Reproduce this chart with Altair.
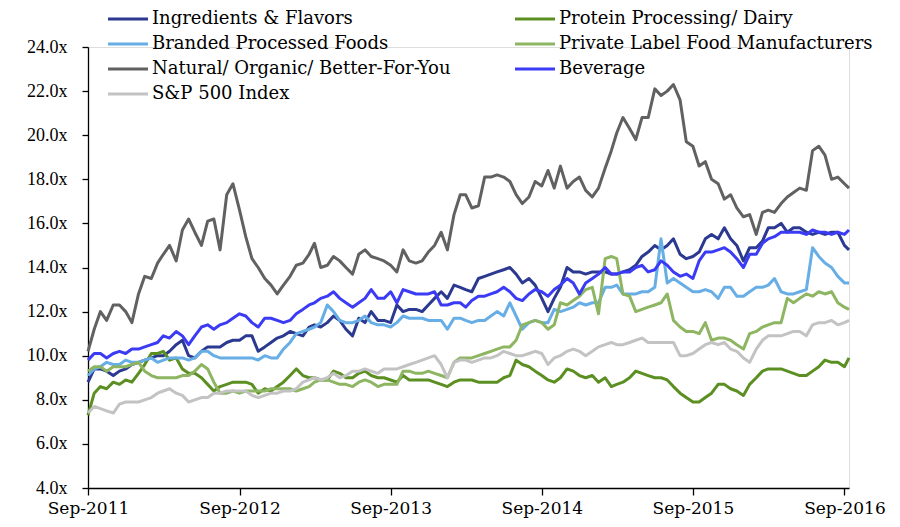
import altair as alt
import pandas as pd

# semi-monthly dates: 1st and 16th of each month, Sep-2011 .. Sep-2016, plus last day
dates = []
for y in range(2011, 2017):
    for m in range(1, 13):
        if (y == 2011 and m < 9) or (y == 2016 and m > 9):
            continue
        dates.append(f"{y}-{m:02d}-01")
        if not (y == 2016 and m == 9):
            dates.append(f"{y}-{m:02d}-16")
dates.append("2016-09-12")

# legend order (column by column)
series_names = [
    "Ingredients & Flavors",
    "Branded Processed Foods",
    "Natural/ Organic/ Better-For-You",
    "S&P 500 Index",
    "Protein Processing/ Dairy",
    "Private Label Food Manufacturers",
    "Beverage",
]
series_colors = ["#2B3990", "#66AEE5", "#616161", "#C3C3C3", "#5B8F22", "#8DB562", "#3B3BF5"]

ingredients = [8.8, 9.4, 9.4, 9.3, 9.1, 9.3, 9.4, 9.6, 9.7, 9.8, 9.9, 10.0, 10.0, 10.2, 10.5, 10.7,
               10.0, 9.9, 10.2, 10.4, 10.4, 10.4, 10.6, 10.7, 10.7, 10.9, 10.9, 10.2, 10.4, 10.6, 10.8, 10.9,
               11.1, 11.0, 10.9, 11.3, 11.4, 11.3, 11.5, 11.8, 11.6, 11.2, 10.9, 11.7, 11.5, 12.0, 11.6, 11.6,
               11.5, 12.3, 12.0, 12.1, 12.1, 12.0, 12.3, 12.6, 12.9, 12.6, 13.2, 13.1, 13.0, 12.9, 13.5, 13.6,
               13.7, 13.8, 13.9, 14.0, 13.7, 13.3, 13.5, 13.2, 12.6, 12.0, 12.6, 13.1, 14.0, 13.8, 13.8, 13.7,
               13.8, 13.8, 13.8, 13.7, 13.7, 13.8, 13.9, 14.1, 14.5, 14.7, 15.0, 14.8, 15.0, 15.3, 14.6, 14.4,
               14.5, 14.7, 15.3, 15.5, 15.3, 15.8, 15.3, 15.0, 14.3, 14.9, 14.9, 15.2, 15.8, 15.8, 16.0, 15.6,
               15.8, 15.8, 15.6, 15.5, 15.6, 15.5, 15.6, 15.6, 15.0, 14.8]
protein = [7.3, 8.3, 8.6, 8.5, 8.8, 8.7, 8.9, 8.8, 9.2, 9.6, 10.1, 10.1, 10.2, 9.8, 9.9, 9.4,
           9.2, 9.2, 9.0, 8.7, 8.4, 8.6, 8.7, 8.8, 8.8, 8.8, 8.7, 8.3, 8.5, 8.4, 8.6, 8.8,
           9.1, 9.4, 9.1, 9.0, 9.0, 8.9, 8.9, 9.3, 9.2, 9.0, 9.0, 9.2, 9.3, 9.1, 9.0, 9.0,
           8.9, 8.8, 9.1, 8.9, 8.9, 8.9, 8.9, 8.8, 8.7, 8.6, 8.8, 8.9, 8.9, 8.9, 8.8, 8.8,
           8.8, 8.8, 9.0, 9.1, 9.8, 9.6, 9.5, 9.3, 9.1, 8.9, 8.8, 9.0, 9.4, 9.3, 9.1, 9.0,
           9.1, 8.8, 9.0, 8.6, 8.7, 8.8, 9.0, 9.3, 9.2, 9.1, 9.0, 9.0, 8.9, 8.6, 8.3, 8.1,
           7.9, 7.9, 8.1, 8.3, 8.7, 8.7, 8.5, 8.4, 8.2, 8.7, 9.0, 9.3, 9.4, 9.4, 9.4, 9.3,
           9.2, 9.1, 9.1, 9.3, 9.5, 9.8, 9.7, 9.7, 9.5, 9.9]
branded = [9.1, 9.4, 9.5, 9.7, 9.6, 9.6, 9.8, 9.7, 9.7, 9.8, 9.9, 9.7, 9.8, 9.9, 9.9, 9.9,
           9.8, 9.9, 10.2, 10.2, 10.0, 9.9, 9.9, 9.9, 9.9, 9.9, 9.9, 9.8, 10.0, 9.9, 9.9, 10.3,
           10.6, 11.0, 11.1, 11.2, 11.3, 11.5, 12.3, 12.0, 11.6, 11.5, 11.5, 11.6, 11.8, 11.5, 11.4, 11.4,
           11.3, 11.5, 11.8, 11.7, 11.7, 11.7, 11.6, 11.6, 11.6, 11.2, 11.7, 11.7, 11.6, 11.5, 11.6, 11.6,
           11.8, 12.0, 11.8, 12.4, 11.8, 11.2, 11.5, 11.6, 11.5, 11.5, 12.1, 12.0, 12.1, 12.2, 12.4, 12.3,
           12.4, 12.4, 13.1, 13.1, 13.2, 12.8, 12.8, 12.8, 12.9, 12.9, 13.1, 15.3, 13.3, 13.5, 13.3, 13.1,
           12.9, 12.9, 13.0, 12.9, 12.6, 13.1, 13.1, 12.7, 12.7, 12.9, 13.1, 13.1, 13.2, 13.5, 12.9, 12.8,
           12.8, 12.9, 13.0, 14.9, 14.5, 14.2, 14.0, 13.6, 13.3, 13.3]
private_label = [9.3, 9.5, 9.5, 9.3, 9.5, 9.5, 9.5, 9.6, 9.7, 9.3, 9.1, 9.0, 9.0, 9.0, 9.0, 9.1,
                 9.1, 9.3, 9.6, 9.4, 8.8, 8.3, 8.3, 8.4, 8.3, 8.4, 8.4, 8.4, 8.4, 8.5, 8.5, 8.5,
                 8.5, 8.4, 8.5, 8.6, 8.8, 8.9, 8.9, 8.8, 8.7, 8.7, 8.6, 8.8, 8.9, 8.8, 8.6, 8.7,
                 8.7, 8.7, 9.3, 9.3, 9.2, 9.2, 9.3, 9.2, 9.1, 9.0, 9.7, 9.9, 9.9, 9.9, 10.0, 10.1,
                 10.2, 10.3, 10.4, 10.4, 10.7, 11.4, 11.5, 11.6, 11.5, 11.2, 11.4, 12.4, 12.3, 12.5, 12.7, 13.0,
                 13.1, 11.9, 14.4, 14.5, 14.4, 12.8, 12.7, 12.0, 12.1, 12.2, 12.3, 12.4, 12.8, 11.6, 11.3, 11.1,
                 11.1, 11.0, 11.5, 10.7, 10.8, 10.8, 10.7, 10.5, 10.3, 11.0, 11.1, 11.3, 11.4, 11.5, 11.5, 12.6,
                 12.4, 12.6, 12.8, 12.7, 12.9, 12.8, 12.9, 12.4, 12.2, 12.1]
natural = [10.2, 11.2, 12.0, 11.6, 12.3, 12.3, 12.0, 11.5, 12.8, 13.6, 13.5, 14.2, 14.6, 15.0, 14.3, 15.7,
           16.2, 15.6, 15.0, 16.1, 16.2, 14.8, 17.3, 17.8, 16.6, 15.4, 14.4, 14.0, 13.5, 13.2, 12.8, 13.2,
           13.6, 14.1, 14.2, 14.6, 15.1, 14.0, 14.1, 14.5, 14.3, 14.0, 13.7, 14.6, 14.8, 14.5, 14.4, 14.3,
           14.1, 13.8, 14.8, 14.3, 14.2, 14.3, 14.7, 15.0, 15.6, 14.8, 16.4, 17.3, 17.3, 16.7, 16.8, 18.1,
           18.1, 18.2, 18.1, 17.9, 17.3, 16.9, 17.2, 17.9, 17.7, 18.4, 17.6, 18.6, 17.6, 17.9, 18.1, 17.5,
           17.2, 17.6, 18.5, 19.3, 20.1, 20.8, 20.3, 19.8, 20.8, 20.8, 22.1, 21.8, 22.0, 22.3, 21.6, 19.7,
           19.5, 18.6, 18.8, 18.0, 17.8, 17.1, 17.3, 16.7, 16.3, 16.4, 15.5, 16.5, 16.6, 16.5, 16.9, 17.2,
           17.4, 17.6, 17.5, 19.3, 19.5, 19.1, 18.0, 18.1, 17.8, 17.6]
beverage = [9.8, 10.1, 10.1, 9.9, 10.1, 10.2, 10.1, 10.3, 10.3, 10.4, 10.5, 10.6, 10.9, 10.8, 11.1, 10.9,
            10.5, 10.9, 11.3, 11.4, 11.2, 11.4, 11.5, 11.7, 11.9, 11.8, 11.5, 11.3, 11.7, 11.7, 11.6, 11.5,
            11.6, 11.9, 12.1, 12.3, 12.4, 12.6, 12.7, 12.9, 12.6, 12.4, 12.2, 12.4, 12.6, 13.0, 12.6, 12.6,
            12.9, 12.4, 13.0, 12.9, 12.8, 12.8, 12.8, 12.9, 12.3, 12.3, 12.4, 12.4, 12.2, 12.5, 12.7, 12.7,
            12.8, 12.9, 13.1, 12.9, 12.6, 12.5, 12.8, 13.0, 12.9, 12.7, 13.0, 13.2, 13.5, 13.3, 12.8, 13.3,
            13.5, 13.7, 14.0, 13.7, 13.7, 13.8, 13.8, 14.0, 14.1, 13.8, 13.9, 14.3, 14.1, 13.8, 13.6, 13.7,
            13.5, 14.3, 14.7, 14.7, 14.8, 14.9, 14.7, 14.4, 14.0, 14.6, 14.6, 15.1, 15.3, 15.4, 15.6, 15.6,
            15.6, 15.6, 15.5, 15.7, 15.6, 15.6, 15.5, 15.6, 15.5, 15.7]
sp500 = [7.4, 7.7, 7.6, 7.5, 7.4, 7.8, 7.9, 7.9, 7.9, 8.0, 8.1, 8.3, 8.4, 8.5, 8.3, 8.2,
         7.9, 8.0, 8.1, 8.1, 8.3, 8.3, 8.4, 8.4, 8.4, 8.4, 8.2, 8.1, 8.2, 8.3, 8.3, 8.4,
         8.4, 8.5, 8.8, 8.9, 9.0, 8.9, 9.0, 9.2, 9.0, 9.1, 9.3, 9.3, 9.4, 9.3, 9.2, 9.4,
         9.4, 9.4, 9.5, 9.6, 9.7, 9.8, 9.9, 10.0, 9.6, 9.0, 9.7, 9.8, 9.8, 9.7, 9.8, 9.9,
         9.9, 10.0, 10.2, 10.1, 10.0, 10.0, 10.1, 10.2, 10.1, 9.6, 9.9, 10.0, 10.2, 10.3, 10.2, 10.0,
         10.2, 10.4, 10.5, 10.6, 10.5, 10.5, 10.6, 10.7, 10.8, 10.6, 10.6, 10.6, 10.6, 10.6, 10.0, 10.0,
         10.1, 10.3, 10.5, 10.6, 10.5, 10.6, 10.3, 10.2, 9.9, 9.7, 10.3, 10.7, 10.9, 10.9, 10.9, 11.0,
         11.1, 11.1, 10.9, 11.4, 11.5, 11.5, 11.6, 11.4, 11.5, 11.6]

y_ticks = [4, 6, 8, 10, 12, 14, 16, 18, 20, 22, 24]
x_tick_years = [2011, 2012, 2013, 2014, 2015, 2016]

values_by_series = {
    "Ingredients & Flavors": ingredients,
    "Protein Processing/ Dairy": protein,
    "Branded Processed Foods": branded,
    "Private Label Food Manufacturers": private_label,
    "Natural/ Organic/ Better-For-You": natural,
    "Beverage": beverage,
    "S&P 500 Index": sp500,
}
rows = []
for name, vals in values_by_series.items():
    for d, v in zip(dates, vals):
        rows.append({"date": d, "series": name, "value": v})
df = pd.DataFrame(rows)

FONT_SERIF = "DejaVu Serif"

chart = alt.Chart(df).mark_line(strokeWidth=3, strokeJoin="round").encode(
    x=alt.X(
        "date:T",
        scale=alt.Scale(
            type="utc",
            domain=[alt.DateTime(year=2011, month=9, date=1, utc=True),
                    alt.DateTime(year=2016, month=9, date=12, utc=True)],
        ),
        axis=alt.Axis(
            title=None,
            values=[alt.DateTime(year=yy, month=9, date=1, utc=True) for yy in x_tick_years],
            format="%b-%Y",
            grid=False,
            domainColor="black",
            domainWidth=1.3,
            tickColor="black",
            tickWidth=1.3,
            tickSize=7,
            labelFont=FONT_SERIF,
            labelFontSize=17,
            labelColor="black",
            labelPadding=5,
            labelFlush=False,
            labelOverlap=False,
        ),
    ),
    y=alt.Y(
        "value:Q",
        scale=alt.Scale(domain=[4, 24], nice=False, zero=False),
        axis=alt.Axis(
            title=None,
            values=y_ticks,
            labelExpr="format(datum.value, '.1f') + 'x'",
            grid=False,
            domainColor="black",
            domainWidth=1.3,
            tickColor="black",
            tickWidth=1.3,
            tickSize=6,
            labelFont="Liberation Serif",
            labelFontSize=18,
            labelColor="black",
            labelPadding=15,
        ),
    ),
    color=alt.Color(
        "series:N",
        sort=series_names,
        scale=alt.Scale(domain=series_names, range=series_colors),
        legend=alt.Legend(
            title=None,
            orient="none",
            legendX=31,
            legendY=-37,
            columns=2,
            columnPadding=58,
            rowPadding=7.0,
            symbolType="M-4,0H4",
            symbolSize=100,
            symbolStrokeWidth=3,
            labelFont=FONT_SERIF,
            labelFontSize=18,
            labelColor="black",
            labelOffset=15,
            labelLimit=0,
        ),
    ),
).properties(
    width=761,
    height=441,
    autosize=alt.AutoSizeParams(type="none"),
    padding={"left": 80, "top": 39, "right": 43, "bottom": 30},
).configure_view(stroke=None).configure(background="white")

chart.save("out.html", embed_options={"renderer": "svg", "actions": False})
